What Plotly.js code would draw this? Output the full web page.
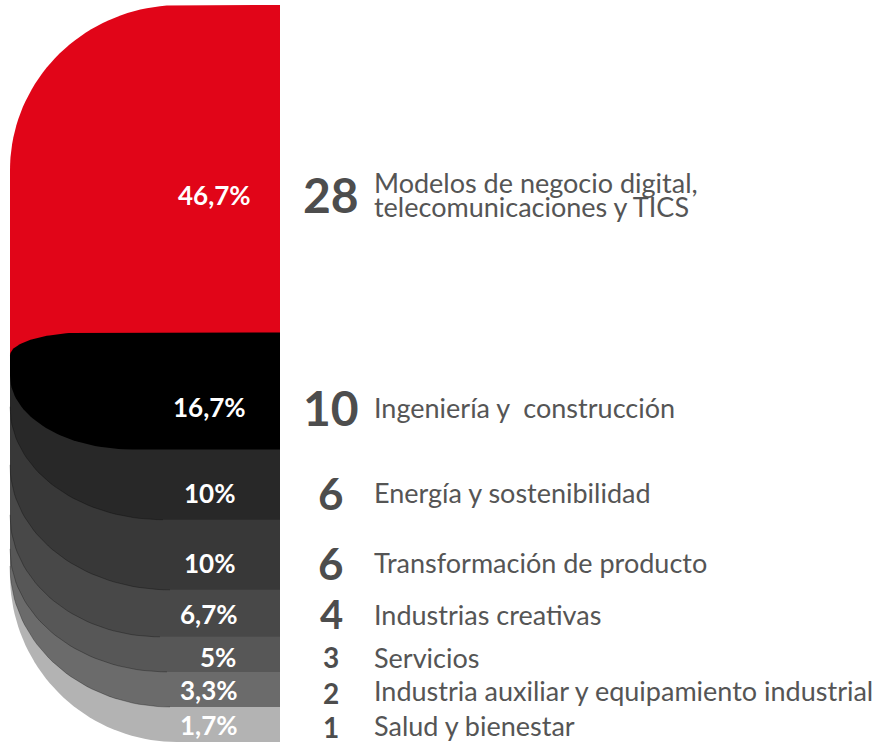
<!DOCTYPE html>
<html><head><meta charset="utf-8">
<script src="https://cdn.plot.ly/plotly-3.0.1.min.js"></script>
<style>html,body{margin:0;padding:0;background:#fff}#chart{width:876px;height:744px}</style>
</head><body><div id="chart"></div>
<script>
// ---- data ----
const sectorLines = [
  ["Modelos de negocio digital,", "telecomunicaciones y TICS"],
  ["Ingeniería y\u00a0 construcción"],
  ["Energía y sostenibilidad"],
  ["Transformación de producto"],
  ["Industrias creativas"],
  ["Servicios"],
  ["Industria auxiliar y equipamiento industrial"],
  ["Salud y bienestar"]
];
const projects = [28, 10, 6, 6, 4, 3, 2, 1];
const shares = [46.7, 16.7, 10, 10, 6.7, 5, 3.3, 1.7];
const shareLabels = ["46,7%", "16,7%", "10%", "10%", "6,7%", "5%", "3,3%", "1,7%"];

// ---- style ----
const W = 876, H = 744, MT = 5, MB = 2;
const MIN_SHARE = 5;               // minimum drawn band height (in %)
const colors = ['#e10518', '#000000', '#282828', '#383838', '#484848', '#575757', '#6b6b6b', '#b3b3b3'];
const BAR_L = 10, BAR_R = 280;
const topCorner = { 0: [170, 165], 1: [77, 23] };          // px radii (rx, ry)
const bottomCorner = [null, [123, 74], [153, 113], [160, 125], [150, 122], [157, 123], [160, 141], [167, 167]];
const PCT_X = 209, NUM_X = 331, TXT_X = 372;
const pctShift = [-26, -16, -8, -8, -1, -3, -1, -1];
const pctXShift = [5, 0, 0, 0, 0, 9, 0, 0];
const numShift = [-26, -16, -8, -8, -1, -3, -4, -3];
const numSize = [48, 48, 44, 44, 40, 28, 28, 28];
const PCT_SIZE = 26, TXT_SIZE = 27, LINE_GAP = 24;
const FONT = 'Lato, "Open Sans", sans-serif';

// ---- geometry from data ----
const disp = shares.map(v => Math.max(v, MIN_SHARE));
const total = disp.reduce((a, b) => a + b, 0);
const cum = [0];
disp.forEach(d => cum.push(cum[cum.length - 1] + d));
const plotH = H - MT - MB;
const ppu = plotH / total;           // px per unit
const toY = px => px / ppu;          // px offset -> y units
const N = 40;

function arcTopLeft(yTop, rx, ry) {
  const xs = [], ys = [];
  const cx = BAR_L + rx;
  for (let k = 0; k <= N; k++) {
    const t = k / N * Math.PI / 2;
    xs.push(cx - rx * Math.sin(t));
    ys.push(yTop + toY(ry - ry * Math.cos(t)));
  }
  return [xs, ys];
}
function arcBottomLeft(yBot, rx, ry) {
  const xs = [], ys = [];
  const cx = BAR_L + rx;
  for (let k = 0; k <= N; k++) {
    const t = k / N * Math.PI / 2;
    xs.push(cx - rx * Math.cos(t));
    ys.push(yBot - toY(ry) + toY(ry * Math.sin(t)));
  }
  return [xs, ys];
}

function layer(i) {
  let xs = [], ys = [];
  const bot = cum[i + 1];
  if (i === 0) {
    const b = cum[1] + toY(topCorner[1][1]);
    xs.push(BAR_R); ys.push(0);
    const [ax, ay] = arcTopLeft(0, topCorner[0][0], topCorner[0][1]);
    xs = xs.concat(ax); ys = ys.concat(ay);
    xs.push(BAR_L, BAR_R); ys.push(b, b);
  } else {
    const top = (i === 1) ? cum[1] : cum[1] + toY(topCorner[1][1]);
    xs.push(BAR_R); ys.push(top);
    if (i === 1) {
      const [ax, ay] = arcTopLeft(top, topCorner[1][0], topCorner[1][1]);
      xs = xs.concat(ax); ys = ys.concat(ay);
    } else {
      xs.push(BAR_L); ys.push(top);
    }
    const [bx, by] = arcBottomLeft(bot, bottomCorner[i][0], bottomCorner[i][1]);
    xs = xs.concat(bx); ys = ys.concat(by);
    xs.push(BAR_R); ys.push(bot);
  }
  xs.push(xs[0]); ys.push(ys[0]);
  return {
    type: 'scatter', mode: 'lines', x: xs, y: ys, fill: 'toself',
    fillcolor: colors[i], line: { width: 0, color: colors[i] },
    hoverinfo: 'skip', showlegend: false
  };
}
function edge(i) {
  const [bx, by] = arcBottomLeft(cum[i + 1], bottomCorner[i][0], bottomCorner[i][1]);
  return {
    type: 'scatter', mode: 'lines', x: bx, y: by,
    line: { width: 0.8, color: 'rgba(0,0,0,0.35)' }, hoverinfo: 'skip', showlegend: false
  };
}

const traces = [];
[7, 6, 5, 4, 3, 2].forEach(i => {
  traces.push(layer(i));
  if (i >= 2 && i <= 6) traces.push(edge(i));
});
traces.push(layer(0));
traces.push(layer(1));

const annotations = [];
shares.forEach((v, i) => {
  const yc = (cum[i] + cum[i + 1]) / 2;
  annotations.push({
    x: PCT_X, y: yc, xref: 'x', yref: 'y', text: shareLabels[i], showarrow: false,
    xanchor: 'center', yanchor: 'middle', yshift: pctShift[i], xshift: pctXShift[i],
    font: { family: FONT, size: PCT_SIZE, color: '#ffffff', weight: 700 }
  });
  annotations.push({
    x: NUM_X, y: yc, xref: 'x', yref: 'y', text: String(projects[i]), showarrow: false,
    xanchor: 'center', yanchor: 'middle', yshift: numShift[i],
    font: { family: FONT, size: numSize[i], color: '#4d4d4d', weight: 700 }
  });
  const lines = sectorLines[i];
  lines.forEach((t, k) => {
    const off = (k - (lines.length - 1) / 2) * LINE_GAP;
    annotations.push({
      x: TXT_X, y: yc, xref: 'x', yref: 'y', text: t, showarrow: false,
      xanchor: 'left', yanchor: 'middle', yshift: pctShift[i] - off,
      font: { family: FONT, size: TXT_SIZE, color: '#555555' }
    });
  });
});

const layout = {
  width: W, height: H,
  margin: { l: 0, r: 0, t: MT, b: MB, pad: 0 },
  paper_bgcolor: '#ffffff', plot_bgcolor: '#ffffff',
  xaxis: { range: [0, W], visible: false, fixedrange: true },
  yaxis: { range: [total, 0], visible: false, fixedrange: true },
  annotations: annotations,
  showlegend: false
};
Plotly.newPlot('chart', traces, layout, { displayModeBar: false, staticPlot: true });
</script>
</body></html>
